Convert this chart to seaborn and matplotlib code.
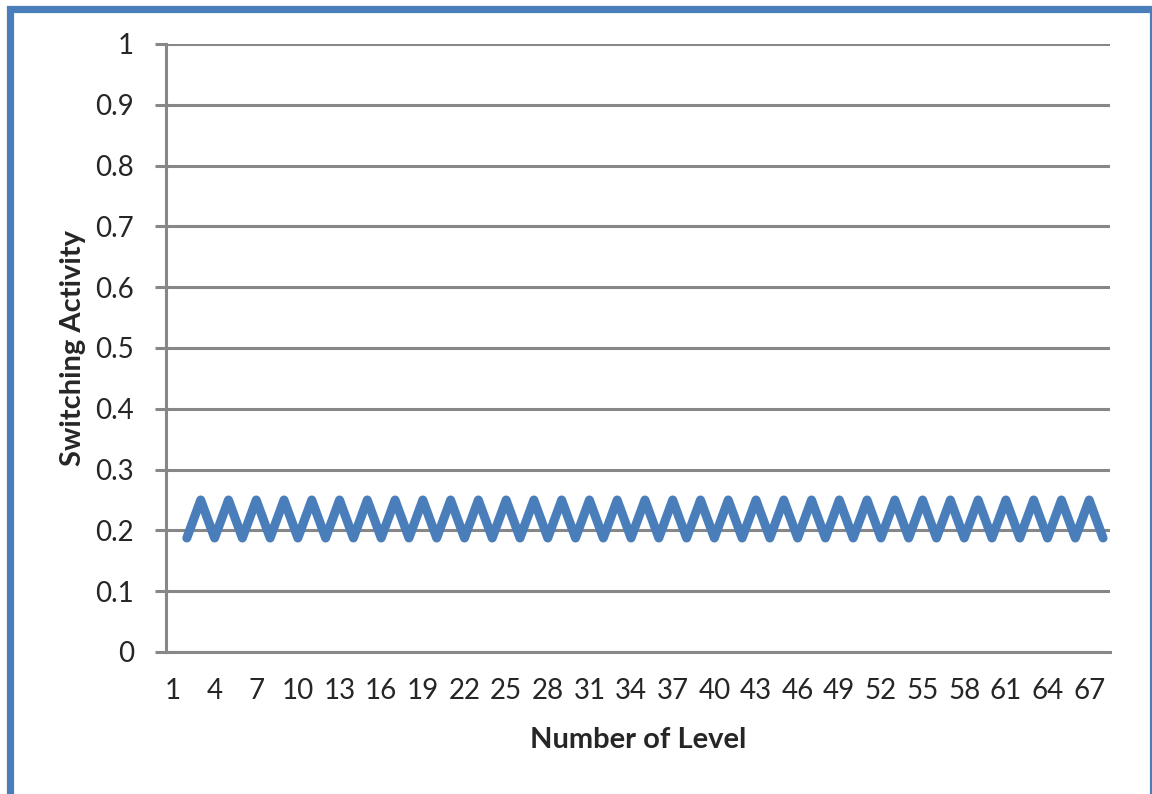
import numpy as np
import pandas as pd
import matplotlib
matplotlib.use("Agg")
import matplotlib.pyplot as plt
import seaborn as sns
from matplotlib.patches import Rectangle

# levels 2..68 carry the data, level 1 is empty on the category axis
levels = list(range(2, 69))
activity = [
    0.1875, 0.25, 0.1875, 0.25, 0.1875, 0.25, 0.1875, 0.25, 0.1875, 0.25,
    0.1875, 0.25, 0.1875, 0.25, 0.1875, 0.25, 0.1875, 0.25, 0.1875, 0.25,
    0.1875, 0.25, 0.1875, 0.25, 0.1875, 0.25, 0.1875, 0.25, 0.1875, 0.25,
    0.1875, 0.25, 0.1875, 0.25, 0.1875, 0.25, 0.1875, 0.25, 0.1875, 0.25,
    0.1875, 0.25, 0.1875, 0.25, 0.1875, 0.25, 0.1875, 0.25, 0.1875, 0.25,
    0.1875, 0.25, 0.1875, 0.25, 0.1875, 0.25, 0.1875, 0.25, 0.1875, 0.25,
    0.1875, 0.25, 0.1875, 0.25, 0.1875, 0.25, 0.1875,
]
xtick_vals = [1, 4, 7, 10, 13, 16, 19, 22, 25, 28, 31, 34, 37, 40, 43, 46,
              49, 52, 55, 58, 61, 64, 67]
ytick_vals = [0, 0.1, 0.2, 0.3, 0.4, 0.5, 0.6, 0.7, 0.8, 0.9, 1]
ytick_labels = ["0", "0.1", "0.2", "0.3", "0.4", "0.5", "0.6", "0.7", "0.8", "0.9", "1"]

df = pd.DataFrame({"Number of Level": levels, "Switching Activity": activity})

sns.set_style("white")
plt.rcParams["font.family"] = ["Lato", "DejaVu Sans"]

W, H = 1152, 794
fig = plt.figure(figsize=(W / 100, H / 100), dpi=100)
ax = fig.add_axes([166 / W, 1 - 652 / H, (1110 - 166) / W, (652 - 44) / H])

grid_c = "#878787"
line_c = "#4A7EBB"

sns.lineplot(data=df, x="Number of Level", y="Switching Activity", ax=ax,
             color=line_c, linewidth=6.5, solid_joinstyle="round",
             solid_capstyle="round", zorder=3)

ax.set_xlim(0.5, 68.5)
ax.set_ylim(0, 1)
ax.set_xticks(xtick_vals)
ax.set_xticklabels([str(v) for v in xtick_vals])
ax.set_yticks(ytick_vals)
ax.set_yticklabels(ytick_labels)

ax.yaxis.grid(True, color=grid_c, linewidth=2.2)
ax.xaxis.grid(False)
for side in ["top", "right"]:
    ax.spines[side].set_visible(False)
for side in ["left", "bottom"]:
    ax.spines[side].set_color(grid_c)
    ax.spines[side].set_linewidth(2.2)

ax.tick_params(axis="y", length=8, width=2.2, color=grid_c, pad=15,
               labelsize=20, left=True)
ax.tick_params(axis="x", length=0, pad=19, labelsize=20)

ax.set_xlabel("Number of Level", fontsize=21, fontweight="bold", labelpad=16)
ax.set_ylabel("Switching Activity", fontsize=21, fontweight="bold", labelpad=7)

# blue chart frame
fig.patches.append(Rectangle((9.5 / W, -0.1), (1153 - 9.5) / W, 1.1 - 9.5 / H,
                             transform=fig.transFigure, fill=False,
                             edgecolor=line_c, linewidth=5.2))

fig.savefig("out.png", dpi=100)
